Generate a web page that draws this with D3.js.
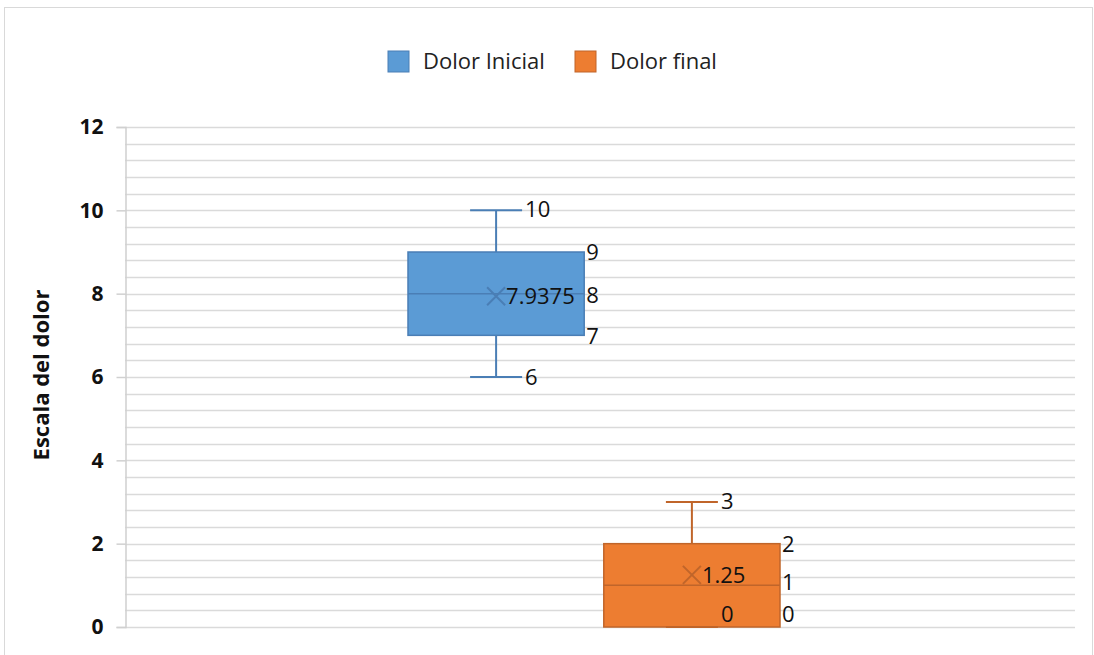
<!DOCTYPE html>
<html lang="es">
<head>
<meta charset="utf-8">
<title>Escala del dolor</title>
<script src="https://cdn.jsdelivr.net/npm/d3@7/dist/d3.min.js"></script>
<style>
    body { margin: 0; background: #fff; font-family: 'Open Sans', sans-serif; }
    svg { display: block; }
</style>
</head>
<body>
<svg></svg>
<script>
    // series and their five-number summaries + mean
    var series = ["Dolor Inicial", "Dolor final"];
    var colors = ["#5B9BD5", "#ED7D31"];
    var strokes = ["#4A7EB5", "#C0652A"];
    var minVals = [6, 0];
    var q1Vals = [7, 0];
    var medianVals = [8, 1];
    var q3Vals = [9, 2];
    var maxVals = [10, 3];
    var meanVals = [7.9375, 1.25];
    var yTicks = [0, 2, 4, 6, 8, 10, 12];

    var width = 1094, height = 655;
    var margin = {top: 127, right: 19, bottom: 28, left: 125};

    var svg = d3.select("svg").attr("width", width).attr("height", height);

    // chart frame
    svg.append("rect")
        .attr("x", 4.5).attr("y", 7.5)
        .attr("width", 1088).attr("height", 660)
        .attr("fill", "#fff").attr("stroke", "#d9d9d9");

    var y = d3.scaleLinear().domain([0, 12]).range([height - margin.bottom, margin.top]);
    var x = d3.scaleBand().domain(series)
        .range([408, 780]).paddingInner(0.1);

    var plotRight = width - margin.right;

    // minor grid every 0.4
    var minor = d3.range(0, 12.001, 0.4);
    svg.append("g").selectAll("line").data(minor).enter().append("line")
        .attr("x1", margin.left).attr("x2", plotRight)
        .attr("y1", function(d) { return Math.round(y(d)) + 0.5; })
        .attr("y2", function(d) { return Math.round(y(d)) + 0.5; })
        .attr("stroke", "#dadada").attr("stroke-width", 1.5);

    // y axis
    var yAxis = svg.append("g")
        .attr("transform", "translate(" + (margin.left + 0.5) + ",0)")
        .call(d3.axisLeft(y).tickValues(yTicks).tickSize(9).tickPadding(13).tickFormat(d3.format("d")));
    yAxis.select(".domain").attr("stroke", "#d0d0d0").attr("stroke-width", 1.5);
    yAxis.selectAll(".tick line").attr("stroke", "#d0d0d0").attr("stroke-width", 1.5);
    yAxis.selectAll(".tick text")
        .attr("fill", "#111").attr("font-size", 21).attr("font-weight", "bold")
        .attr("font-family", "'Open Sans', sans-serif");

    svg.append("text")
        .attr("transform", "translate(49," + (y(6) - 2) + ") rotate(-90)")
        .attr("text-anchor", "middle")
        .attr("font-size", 22).attr("font-weight", "bold").attr("fill", "#111")
        .text("Escala del dolor");

    // boxes
    var bw = x.bandwidth();
    var capW = 52;
    var boxes = svg.append("g").selectAll("g").data(series).enter().append("g");

    boxes.each(function(s, i) {
        var g = d3.select(this);
        var x0 = x(s), cx = x0 + bw / 2;
        // whiskers
        g.append("line").attr("x1", cx).attr("x2", cx)
            .attr("y1", y(maxVals[i])).attr("y2", y(q3Vals[i]))
            .attr("stroke", strokes[i]).attr("stroke-width", 2);
        g.append("line").attr("x1", cx).attr("x2", cx)
            .attr("y1", y(minVals[i])).attr("y2", y(q1Vals[i]))
            .attr("stroke", strokes[i]).attr("stroke-width", 2);
        g.append("line").attr("x1", cx - capW / 2).attr("x2", cx + capW / 2)
            .attr("y1", y(maxVals[i])).attr("y2", y(maxVals[i]))
            .attr("stroke", strokes[i]).attr("stroke-width", 2);
        // box
        g.append("rect").attr("x", x0).attr("width", bw)
            .attr("y", y(q3Vals[i])).attr("height", y(q1Vals[i]) - y(q3Vals[i]))
            .attr("fill", colors[i]).attr("stroke", strokes[i]).attr("stroke-width", 1.5);
        g.append("line").attr("x1", cx - capW / 2).attr("x2", cx + capW / 2)
            .attr("y1", y(minVals[i])).attr("y2", y(minVals[i]))
            .attr("stroke", strokes[i]).attr("stroke-width", 2);
        // median
        g.append("line").attr("x1", x0).attr("x2", x0 + bw)
            .attr("y1", y(medianVals[i])).attr("y2", y(medianVals[i]))
            .attr("stroke", strokes[i]).attr("stroke-width", 1.5);
        // mean marker
        var my = y(meanVals[i]), r = 9;
        g.append("path")
            .attr("d", "M" + (cx - r) + "," + (my - r) + "L" + (cx + r) + "," + (my + r) +
                       "M" + (cx - r) + "," + (my + r) + "L" + (cx + r) + "," + (my - r))
            .attr("stroke", strokes[i]).attr("stroke-width", 2).attr("fill", "none");

        // data labels
        var lab = function(tx, v, dy, txt) {
            g.append("text").attr("x", tx).attr("y", y(v) + dy)
                .attr("font-size", 22).attr("fill", "#111")
                .attr("dominant-baseline", "middle")
                .text(txt);
        };
        lab(cx + capW / 2 + 3, maxVals[i], 1, maxVals[i]);
        lab(x0 + bw + 2, q3Vals[i], 2, q3Vals[i]);
        lab(x0 + bw + 2, medianVals[i], i === 1 ? -1 : 3, medianVals[i]);
        lab(x0 + bw + 2, q1Vals[i], i === 1 ? -11 : 3, q1Vals[i]);
        lab(cx + capW / 2 + 3, minVals[i], i === 1 ? -11 : 2, minVals[i]);
        lab(cx + 10, meanVals[i], 2, meanVals[i]);
    });

    // legend
    var legendX = [388, 575];
    var legend = svg.append("g").selectAll("g").data(series).enter().append("g")
        .attr("transform", function(d, i) { return "translate(" + legendX[i] + ",51)"; });
    legend.append("rect").attr("width", 21).attr("height", 21)
        .attr("fill", function(d, i) { return colors[i]; })
        .attr("stroke", function(d, i) { return strokes[i]; });
    legend.append("text").attr("x", 35).attr("y", 12)
        .attr("dominant-baseline", "middle")
        .attr("font-size", 22).attr("fill", "#222")
        .text(function(d) { return d; });
</script>
</body>
</html>
